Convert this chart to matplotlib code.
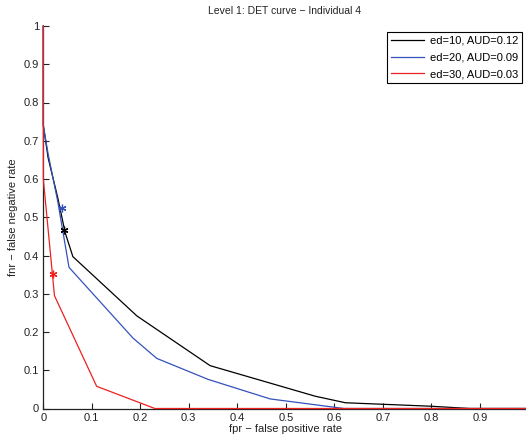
import matplotlib
matplotlib.use("Agg")
import matplotlib.pyplot as plt

plt.rcParams['font.family'] = ['Liberation Sans', 'DejaVu Sans']

# Data
fpr_ed10 = [0, 0, 0.01, 0.03, 0.045, 0.061, 0.193, 0.344, 0.561, 0.623, 0.798, 0.88, 1.0]
fnr_ed10 = [1, 0.74, 0.655, 0.55, 0.46, 0.397, 0.242, 0.112, 0.032, 0.015, 0.006, 0.0, 0.0]

fpr_ed20 = [0, 0, 0.01, 0.03, 0.053, 0.185, 0.234, 0.34, 0.468, 0.62, 1.0]
fnr_ed20 = [1, 0.74, 0.665, 0.54, 0.369, 0.184, 0.131, 0.076, 0.025, 0.0, 0.0]

fpr_ed30 = [0, 0, 0.023, 0.11, 0.23, 1.0]
fnr_ed30 = [1, 0.6, 0.295, 0.058, 0.0, 0.0]

eer_fpr = [0.043, 0.038, 0.02]
eer_fnr = [0.467, 0.525, 0.352]

labels = ["ed=10, AUD=0.12", "ed=20, AUD=0.09", "ed=30, AUD=0.03"]
colors = ["#000000", "#3352bd", "#ee2020"]

xticks = [0, 0.1, 0.2, 0.3, 0.4, 0.5, 0.6, 0.7, 0.8, 0.9]
xticklabels = ["0", "0.1", "0.2", "0.3", "0.4", "0.5", "0.6", "0.7", "0.8", "0.9"]
yticks = [0, 0.1, 0.2, 0.3, 0.4, 0.5, 0.6, 0.7, 0.8, 0.9, 1.0]
yticklabels = ["0", "0.1", "0.2", "0.3", "0.4", "0.5", "0.6", "0.7", "0.8", "0.9", "1"]

W, H = 526, 437
fig = plt.figure(figsize=(W / 100, H / 100), dpi=100)
x0, x1 = 43.3, 528.3
y0, y1 = 408.5, 26.0
ax = fig.add_axes([x0 / W, (H - y0) / H, (x1 - x0) / W, (y0 - y1) / H])

series = [(fpr_ed10, fnr_ed10), (fpr_ed20, fnr_ed20), (fpr_ed30, fnr_ed30)]
for (xs, ys), c, lab in zip(series, colors, labels):
    ax.plot(xs, ys, color=c, lw=0.9, label=lab, zorder=3, clip_on=False)
for xe, ye, c in zip(eer_fpr, eer_fnr, colors):
    ax.plot([xe], [ye], marker=(6, 2, 0), color=c, ms=5.5, mew=0.9, ls='none', zorder=4)

ax.set_xlim(0, 1)
ax.set_ylim(0, 1)
ax.set_xticks(xticks)
ax.set_xticklabels(xticklabels)
ax.set_yticks(yticks)
ax.set_yticklabels(yticklabels)
ax.tick_params(direction='in', length=4, width=0.8, labelsize=8, colors='#222222', pad=3)
for s in ['top', 'right']:
    ax.spines[s].set_visible(False)
for s in ['left', 'bottom']:
    ax.spines[s].set_linewidth(0.9)
    ax.spines[s].set_color('#222222')

ax.set_xlabel("fpr − false positive rate", fontsize=8, color='#222222', labelpad=1)
ax.set_ylabel("fnr − false negative rate", fontsize=8, color='#222222', labelpad=4)
fig.text(285 / W, 1 - 11 / H, "Level 1: DET curve − Individual 4", fontsize=7.5,
         ha='center', va='center', color='#222222')

leg = ax.legend(loc='upper right', bbox_to_anchor=(522 / W, 1 - 32 / H),
                bbox_transform=fig.transFigure, borderaxespad=0, fontsize=8,
                fancybox=False, framealpha=1, edgecolor='black',
                handlelength=3.0, handletextpad=0.5, labelspacing=0.6,
                borderpad=0.35)
leg.get_frame().set_linewidth(0.8)

fig.savefig("out.png", dpi=100)
